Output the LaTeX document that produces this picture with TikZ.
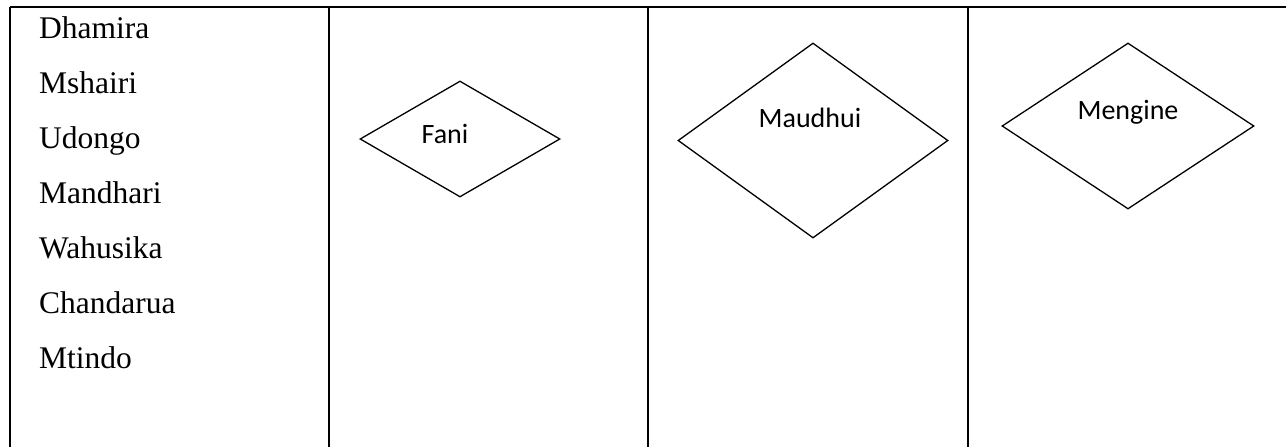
\documentclass[tikz,border=0pt]{standalone}
\usepackage{fontspec}
\setmainfont{Liberation Serif}
\newfontfamily\calib{Carlito}
\usetikzlibrary{shapes.geometric}
\begin{document}
\begin{tikzpicture}[x=1pt,y=-1pt,
  rule/.style={line width=2pt},
  dmd/.style={draw,shape=diamond,inner sep=0pt,line width=1.3pt},
  item/.style={anchor=base west,inner sep=0pt,font=\fontsize{31.5}{36}\selectfont},
  dlabel/.style={anchor=base,inner sep=0pt,font=\calib\fontsize{28}{32}\selectfont}]
\useasboundingbox (0,0) rectangle (1286,447);
% table grid
\coordinate (tl) at (10,7);
\coordinate (tr) at (1286,7);
\draw[rule] (tl) -- (tr);
\foreach \xx/\nm in {10/a,329/b,648/c,968/d}{
  \coordinate (t\nm) at (\xx,7);
  \coordinate (b\nm) at (\xx,447);
  \draw[rule] (t\nm) -- (b\nm);
}
% left column items
\node[item] (i1) at (39,38) {Dhamira};
\node[item] (i2) at (39,93) {Mshairi};
\node[item] (i3) at (39,148) {Udongo};
\node[item] (i4) at (39,203) {Mandhari};
\node[item] (i5) at (39,258) {Wahusika};
\node[item] (i6) at (39,313) {Chandarua};
\node[item] (i7) at (39,368) {Mtindo};
% diamonds
\node[dmd,minimum width=200pt,minimum height=116pt] (fani) at (460,139) {};
\node[dlabel] (fanit) at (445,143) {Fani};
\node[dmd,minimum width=270pt,minimum height=195pt] (maudhui) at (813,140.5) {};
\node[dlabel] (maudhuit) at (810,127) {Maudhui};
\node[dmd,minimum width=252pt,minimum height=166pt] (mengine) at (1128,126) {};
\node[dlabel] (menginet) at (1128,119) {Mengine};
\end{tikzpicture}
\end{document}
